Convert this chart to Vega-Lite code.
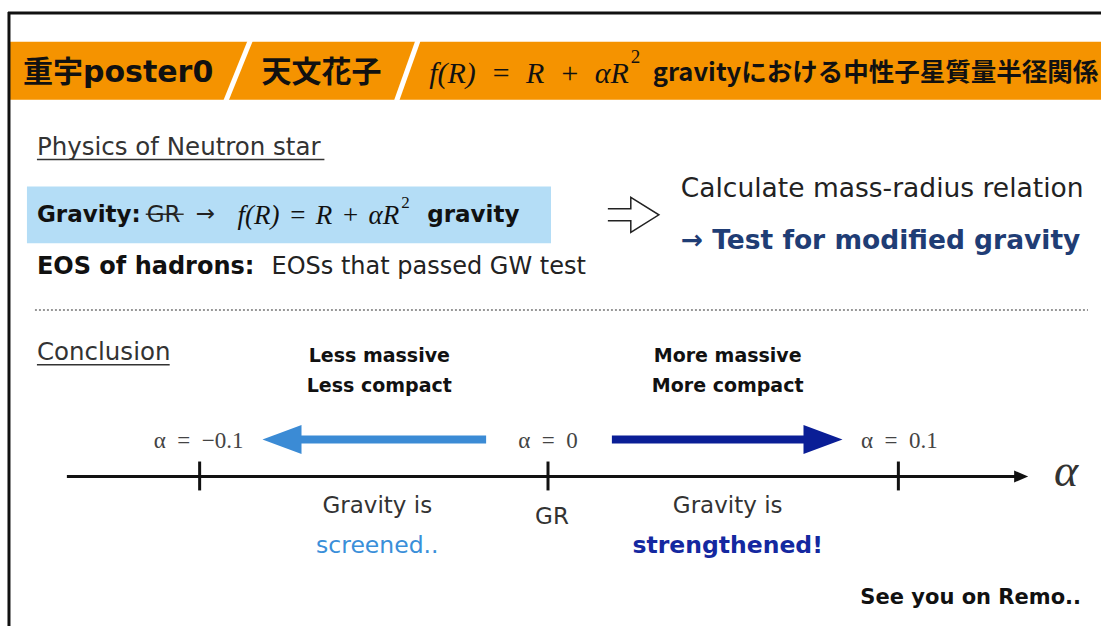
{
  "$schema": "https://vega.github.io/schema/vega-lite/v6.json",
  "width": 1103,
  "height": 628,
  "autosize": {"type": "fit", "contains": "padding"},
  "padding": 0,
  "background": "white",
  "config": {"view": {"stroke": null}},
  "encoding": {
    "x": {"field": "x", "type": "quantitative", "scale": {"domain": [0, 1103], "nice": false, "zero": false}, "axis": null},
    "y": {"field": "y", "type": "quantitative", "scale": {"domain": [0, 628], "reverse": true, "nice": false, "zero": false}, "axis": null}
  },
  "layer": [
    {
      "data": {"values": [{"x": 10, "x2": 1103, "y": 42, "y2": 100}]},
      "mark": {"type": "rect", "color": "#F59300"},
      "encoding": {"x2": {"field": "x2"}, "y2": {"field": "y2"}}
    },
    {
      "data": {"values": [{"x": 27, "x2": 552, "y": 187, "y2": 244}]},
      "mark": {"type": "rect", "color": "#B4DDF6"},
      "encoding": {"x2": {"field": "x2"}, "y2": {"field": "y2"}}
    },
    {
      "data": {"values": [{"x": 251, "x2": 226, "y": 40, "y2": 102}, {"x": 419, "x2": 397, "y": 40, "y2": 102}]},
      "mark": {"type": "rule", "color": "white", "strokeWidth": 5},
      "encoding": {"x2": {"field": "x2"}, "y2": {"field": "y2"}}
    },
    {
      "data": {"values": [{"x": 8, "x2": 1103, "y": 13, "y2": 13}, {"x": 9, "x2": 9, "y": 12, "y2": 628}]},
      "mark": {"type": "rule", "color": "#111111", "strokeWidth": 3},
      "encoding": {"x2": {"field": "x2"}, "y2": {"field": "y2"}}
    },
    {
      "data": {"values": [{"x": 37, "x2": 325, "y": 160, "y2": 160}, {"x": 37, "x2": 170, "y": 366, "y2": 366}, {"x": 146, "x2": 184, "y": 215, "y2": 215}]},
      "mark": {"type": "rule", "color": "#333333", "strokeWidth": 1.5},
      "encoding": {"x2": {"field": "x2"}, "y2": {"field": "y2"}}
    },
    {
      "data": {"values": [{"x": 35, "x2": 1090, "y": 311, "y2": 311}]},
      "mark": {"type": "rule", "color": "#777777", "strokeWidth": 1.5, "strokeDash": [2, 2]},
      "encoding": {"x2": {"field": "x2"}, "y2": {"field": "y2"}}
    },
    {
      "data": {"values": [{"x": 67, "x2": 1018, "y": 478, "y2": 478}, {"x": 200, "x2": 200, "y": 463, "y2": 492}, {"x": 549, "x2": 549, "y": 463, "y2": 492}, {"x": 900, "x2": 900, "y": 463, "y2": 492}]},
      "mark": {"type": "rule", "color": "#111111", "strokeWidth": 3},
      "encoding": {"x2": {"field": "x2"}, "y2": {"field": "y2"}}
    },
    {
      "data": {"values": [{"x": 1023, "y": 478}]},
      "mark": {"type": "point", "shape": "M1,0L-1,-0.85L-1,0.85Z", "size": 196, "filled": true, "color": "#111111", "opacity": 1},
      "encoding": {}
    },
    {
      "data": {"values": [{"x": 300, "x2": 487, "y": 441, "y2": 441}]},
      "mark": {"type": "rule", "color": "#3B8BD5", "strokeWidth": 8},
      "encoding": {"x2": {"field": "x2"}, "y2": {"field": "y2"}}
    },
    {
      "data": {"values": [{"x": 282.5, "y": 441}]},
      "mark": {"type": "point", "shape": "M-1,0L1,-0.744L1,0.744Z", "size": 1521, "filled": true, "color": "#3B8BD5", "opacity": 1},
      "encoding": {}
    },
    {
      "data": {"values": [{"x": 613, "x2": 808, "y": 441, "y2": 441}]},
      "mark": {"type": "rule", "color": "#0A1E96", "strokeWidth": 8},
      "encoding": {"x2": {"field": "x2"}, "y2": {"field": "y2"}}
    },
    {
      "data": {"values": [{"x": 824.5, "y": 441}]},
      "mark": {"type": "point", "shape": "M1,0L-1,-0.744L-1,0.744Z", "size": 1521, "filled": true, "color": "#0A1E96", "opacity": 1},
      "encoding": {}
    },
    {
      "data": {"values": [{"x": 634.5, "y": 215.5}]},
      "mark": {"type": "point", "shape": "M-1,-0.235L-0.1,-0.235L-0.1,-0.686L1,0L-0.1,0.686L-0.1,0.235L-1,0.235", "size": 2601, "filled": false, "stroke": "#222222", "strokeWidth": 1.5, "opacity": 1},
      "encoding": {}
    },
    {
      "data": {"values": [{"x": 23, "y": 73, "t": "重宇poster0"}, {"x": 262, "y": 73, "t": "天文花子"}]},
      "mark": {"type": "text", "align": "left", "baseline": "middle", "font": "DejaVu Sans, Noto Sans CJK JP", "fontWeight": "bold", "fontSize": 30, "color": "#111111"},
      "encoding": {"text": {"field": "t"}}
    },
    {
      "data": {"values": [{"x": 654, "y": 73, "t": "gravityにおける中性子星質量半径関係"}]},
      "mark": {"type": "text", "align": "left", "baseline": "middle", "font": "Noto Sans CJK JP", "fontWeight": "bold", "fontSize": 25.5, "color": "#111111"},
      "encoding": {"text": {"field": "t"}}
    },
    {
      "data": {"values": [{"x": 430, "y": 74, "t": "f(R)\u2002=\u2002R\u2002+\u2002αR"}]},
      "mark": {"type": "text", "align": "left", "baseline": "middle", "font": "Liberation Serif", "fontStyle": "italic", "fontSize": 30, "color": "#111111"},
      "encoding": {"text": {"field": "t"}}
    },
    {
      "data": {"values": [{"x": 632, "y": 57, "t": "2"}]},
      "mark": {"type": "text", "align": "left", "baseline": "middle", "font": "Liberation Serif", "fontSize": 19, "color": "#111111"},
      "encoding": {"text": {"field": "t"}}
    },
    {
      "data": {"values": [{"x": 238, "y": 217, "t": "f(R)\u2004=\u2004R\u2004+\u2004αR"}]},
      "mark": {"type": "text", "align": "left", "baseline": "middle", "font": "Liberation Serif", "fontStyle": "italic", "fontSize": 27, "color": "#111111"},
      "encoding": {"text": {"field": "t"}}
    },
    {
      "data": {"values": [{"x": 402, "y": 204, "t": "2"}]},
      "mark": {"type": "text", "align": "left", "baseline": "middle", "font": "Liberation Serif", "fontSize": 17, "color": "#111111"},
      "encoding": {"text": {"field": "t"}}
    },
    {
      "data": {"values": [{"x": 37, "y": 148, "t": "Physics of Neutron star"}, {"x": 37, "y": 354, "t": "Conclusion"}]},
      "mark": {"type": "text", "align": "left", "baseline": "middle", "font": "DejaVu Sans", "fontSize": 24.5, "color": "#333333"},
      "encoding": {"text": {"field": "t"}}
    },
    {
      "data": {"values": [{"x": 37, "y": 216, "t": "Gravity:"}, {"x": 428, "y": 216, "t": "gravity"}]},
      "mark": {"type": "text", "align": "left", "baseline": "middle", "font": "DejaVu Sans", "fontWeight": "bold", "fontSize": 23, "color": "#111111"},
      "encoding": {"text": {"field": "t"}}
    },
    {
      "data": {"values": [{"x": 37, "y": 268, "t": "EOS of hadrons:"}]},
      "mark": {"type": "text", "align": "left", "baseline": "middle", "font": "DejaVu Sans", "fontWeight": "bold", "fontSize": 24, "color": "#111111"},
      "encoding": {"text": {"field": "t"}}
    },
    {
      "data": {"values": [{"x": 147, "y": 216, "t": "GR"}, {"x": 196, "y": 215, "t": "→"}]},
      "mark": {"type": "text", "align": "left", "baseline": "middle", "font": "DejaVu Sans", "fontSize": 23, "color": "#222222"},
      "encoding": {"text": {"field": "t"}}
    },
    {
      "data": {"values": [{"x": 272, "y": 268, "t": "EOSs that passed GW test"}]},
      "mark": {"type": "text", "align": "left", "baseline": "middle", "font": "DejaVu Sans", "fontSize": 24, "color": "#222222"},
      "encoding": {"text": {"field": "t"}}
    },
    {
      "data": {"values": [{"x": 682, "y": 190, "t": "Calculate mass-radius relation"}]},
      "mark": {"type": "text", "align": "left", "baseline": "middle", "font": "DejaVu Sans", "fontSize": 26.5, "color": "#222222"},
      "encoding": {"text": {"field": "t"}}
    },
    {
      "data": {"values": [{"x": 682, "y": 242, "t": "→ Test for modified gravity"}]},
      "mark": {"type": "text", "align": "left", "baseline": "middle", "font": "DejaVu Sans", "fontWeight": "bold", "fontSize": 26.5, "color": "#1F3D75"},
      "encoding": {"text": {"field": "t"}}
    },
    {
      "data": {"values": [{"x": 380, "y": 357, "t": "Less massive"}, {"x": 380, "y": 387, "t": "Less compact"}, {"x": 729, "y": 357, "t": "More massive"}, {"x": 729, "y": 387, "t": "More compact"}]},
      "mark": {"type": "text", "align": "center", "baseline": "middle", "font": "DejaVu Sans", "fontWeight": "bold", "fontSize": 19, "color": "#111111"},
      "encoding": {"text": {"field": "t"}}
    },
    {
      "data": {"values": [{"x": 199, "y": 442, "t": "α\u2002=\u2002−0.1"}, {"x": 549, "y": 442, "t": "α\u2002=\u20020"}, {"x": 901, "y": 442, "t": "α\u2002=\u20020.1"}]},
      "mark": {"type": "text", "align": "center", "baseline": "middle", "font": "Liberation Serif", "fontSize": 23, "color": "#444444"},
      "encoding": {"text": {"field": "t"}}
    },
    {
      "data": {"values": [{"x": 1068, "y": 474, "t": "α"}]},
      "mark": {"type": "text", "align": "center", "baseline": "middle", "font": "Liberation Serif", "fontStyle": "italic", "fontSize": 46, "color": "#333333"},
      "encoding": {"text": {"field": "t"}}
    },
    {
      "data": {"values": [{"x": 378, "y": 508, "t": "Gravity is"}, {"x": 729, "y": 508, "t": "Gravity is"}, {"x": 553, "y": 519, "t": "GR"}]},
      "mark": {"type": "text", "align": "center", "baseline": "middle", "font": "DejaVu Sans", "fontSize": 23, "color": "#333333"},
      "encoding": {"text": {"field": "t"}}
    },
    {
      "data": {"values": [{"x": 378, "y": 548, "t": "screened.."}]},
      "mark": {"type": "text", "align": "center", "baseline": "middle", "font": "DejaVu Sans", "fontSize": 23.5, "color": "#3A8FD9"},
      "encoding": {"text": {"field": "t"}}
    },
    {
      "data": {"values": [{"x": 729, "y": 548, "t": "strengthened!"}]},
      "mark": {"type": "text", "align": "center", "baseline": "middle", "font": "DejaVu Sans", "fontWeight": "bold", "fontSize": 23.5, "color": "#1428A0"},
      "encoding": {"text": {"field": "t"}}
    },
    {
      "data": {"values": [{"x": 1083, "y": 600, "t": "See you on Remo.."}]},
      "mark": {"type": "text", "align": "right", "baseline": "middle", "font": "DejaVu Sans", "fontWeight": "bold", "fontSize": 21, "color": "#111111"},
      "encoding": {"text": {"field": "t"}}
    }
  ]
}
